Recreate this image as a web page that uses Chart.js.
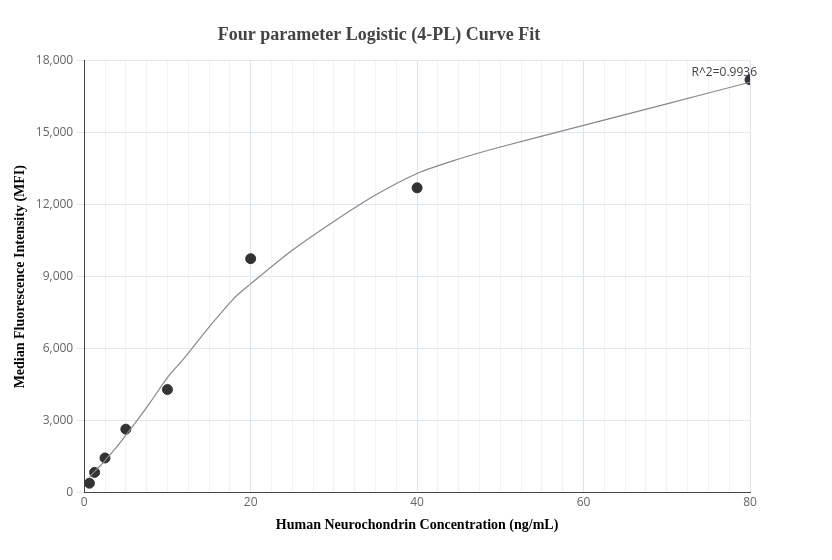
<!DOCTYPE html>
<html><head><meta charset="utf-8">
<script src="https://cdn.jsdelivr.net/npm/chart.js@4"></script>
<style>body{margin:0;background:#fff}#wrap{width:832px;height:560px}</style>
</head><body><div id="wrap"><canvas id="c"></canvas></div>
<script>
const concX = [0.625, 1.25, 2.5, 5, 10, 20, 40, 80];
const mfiY = [400, 850, 1450, 2650, 4300, 9750, 12700, 17200];
const fitX = [0.625, 1, 2, 3, 4, 5, 6, 8, 10, 12, 15, 18, 20, 25, 30, 35, 40, 45, 50, 60, 70, 80];
const fitY = [650, 800, 1150, 1550, 1950, 2400, 2850, 3800, 4800, 5600, 6900, 8100, 8700, 10100, 11300, 12400, 13300, 13900, 14400, 15300, 16200, 17100];
const r2Label = "R^2=0.9936";

const r2Plugin = {
  id: "r2",
  afterDatasetsDraw(chart) {
    const {ctx, scales} = chart;
    ctx.save();
    ctx.font = "12px 'Open Sans'";
    ctx.fillStyle = "#444";
    ctx.textAlign = "right";
    ctx.textBaseline = "bottom";
    ctx.fillText(r2Label, scales.x.getPixelForValue(80) + 7, scales.y.getPixelForValue(17200) - 1);
    ctx.restore();
  }
};

new Chart(document.getElementById("c").getContext("2d"), {
  type: "scatter",
  data: {
    datasets: [
      {
        label: "Fit",
        type: "line",
        data: fitX.map((x, i) => ({x: x, y: fitY[i]})),
        borderColor: "#888",
        borderWidth: 1.2,
        pointRadius: 0,
        tension: 0.3,
        fill: false
      },
      {
        label: "Data",
        data: concX.map((x, i) => ({x: x, y: mfiY[i]})),
        backgroundColor: "#333",
        borderColor: "#333",
        pointRadius: 5
      }
    ]
  },
  options: {
    responsive: true,
    maintainAspectRatio: false,
    animation: false,
    layout: {padding: {left: 8, right: 82, top: 10, bottom: 22}},
    plugins: {
      legend: {display: false},
      tooltip: {enabled: false},
      title: {
        display: true,
        text: "Four parameter Logistic (4-PL) Curve Fit",
        font: {family: "'Liberation Serif'", size: 18, weight: "bold"},
        color: "#444",
        padding: {top: 15, bottom: 14}
      }
    },
    scales: {
      x: {
        type: "linear",
        min: 0,
        max: 80,
        ticks: {
          stepSize: 2.5,
          autoSkip: false,
          maxRotation: 0,
          color: "#666",
          font: {family: "'Open Sans'", size: 12},
          callback: v => (v % 20 === 0 ? v : "")
        },
        grid: {
          color: ctx => (ctx.tick && ctx.tick.value % 20 === 0 ? "#dde3ee" : "#f0f2f7"),
          drawTicks: false
        },
        border: {color: "#444"},
        title: {
          display: true,
          text: "Human Neurochondrin Concentration (ng/mL)",
          font: {family: "'Liberation Serif'", size: 14, weight: "bold"},
          color: "#000"
        }
      },
      y: {
        min: 0,
        max: 18000,
        ticks: {
          stepSize: 3000,
          color: "#666",
          font: {family: "'Open Sans'", size: 12},
          callback: v => v.toLocaleString("en-US")
        },
        grid: {color: "#e3e7ef"},
        border: {color: "#444"},
        title: {
          display: true,
          text: "Median Fluorescence Intensity (MFI)",
          font: {family: "'Liberation Serif'", size: 14, weight: "bold"},
          color: "#000"
        }
      }
    }
  },
  plugins: [r2Plugin]
});
</script></body></html>
